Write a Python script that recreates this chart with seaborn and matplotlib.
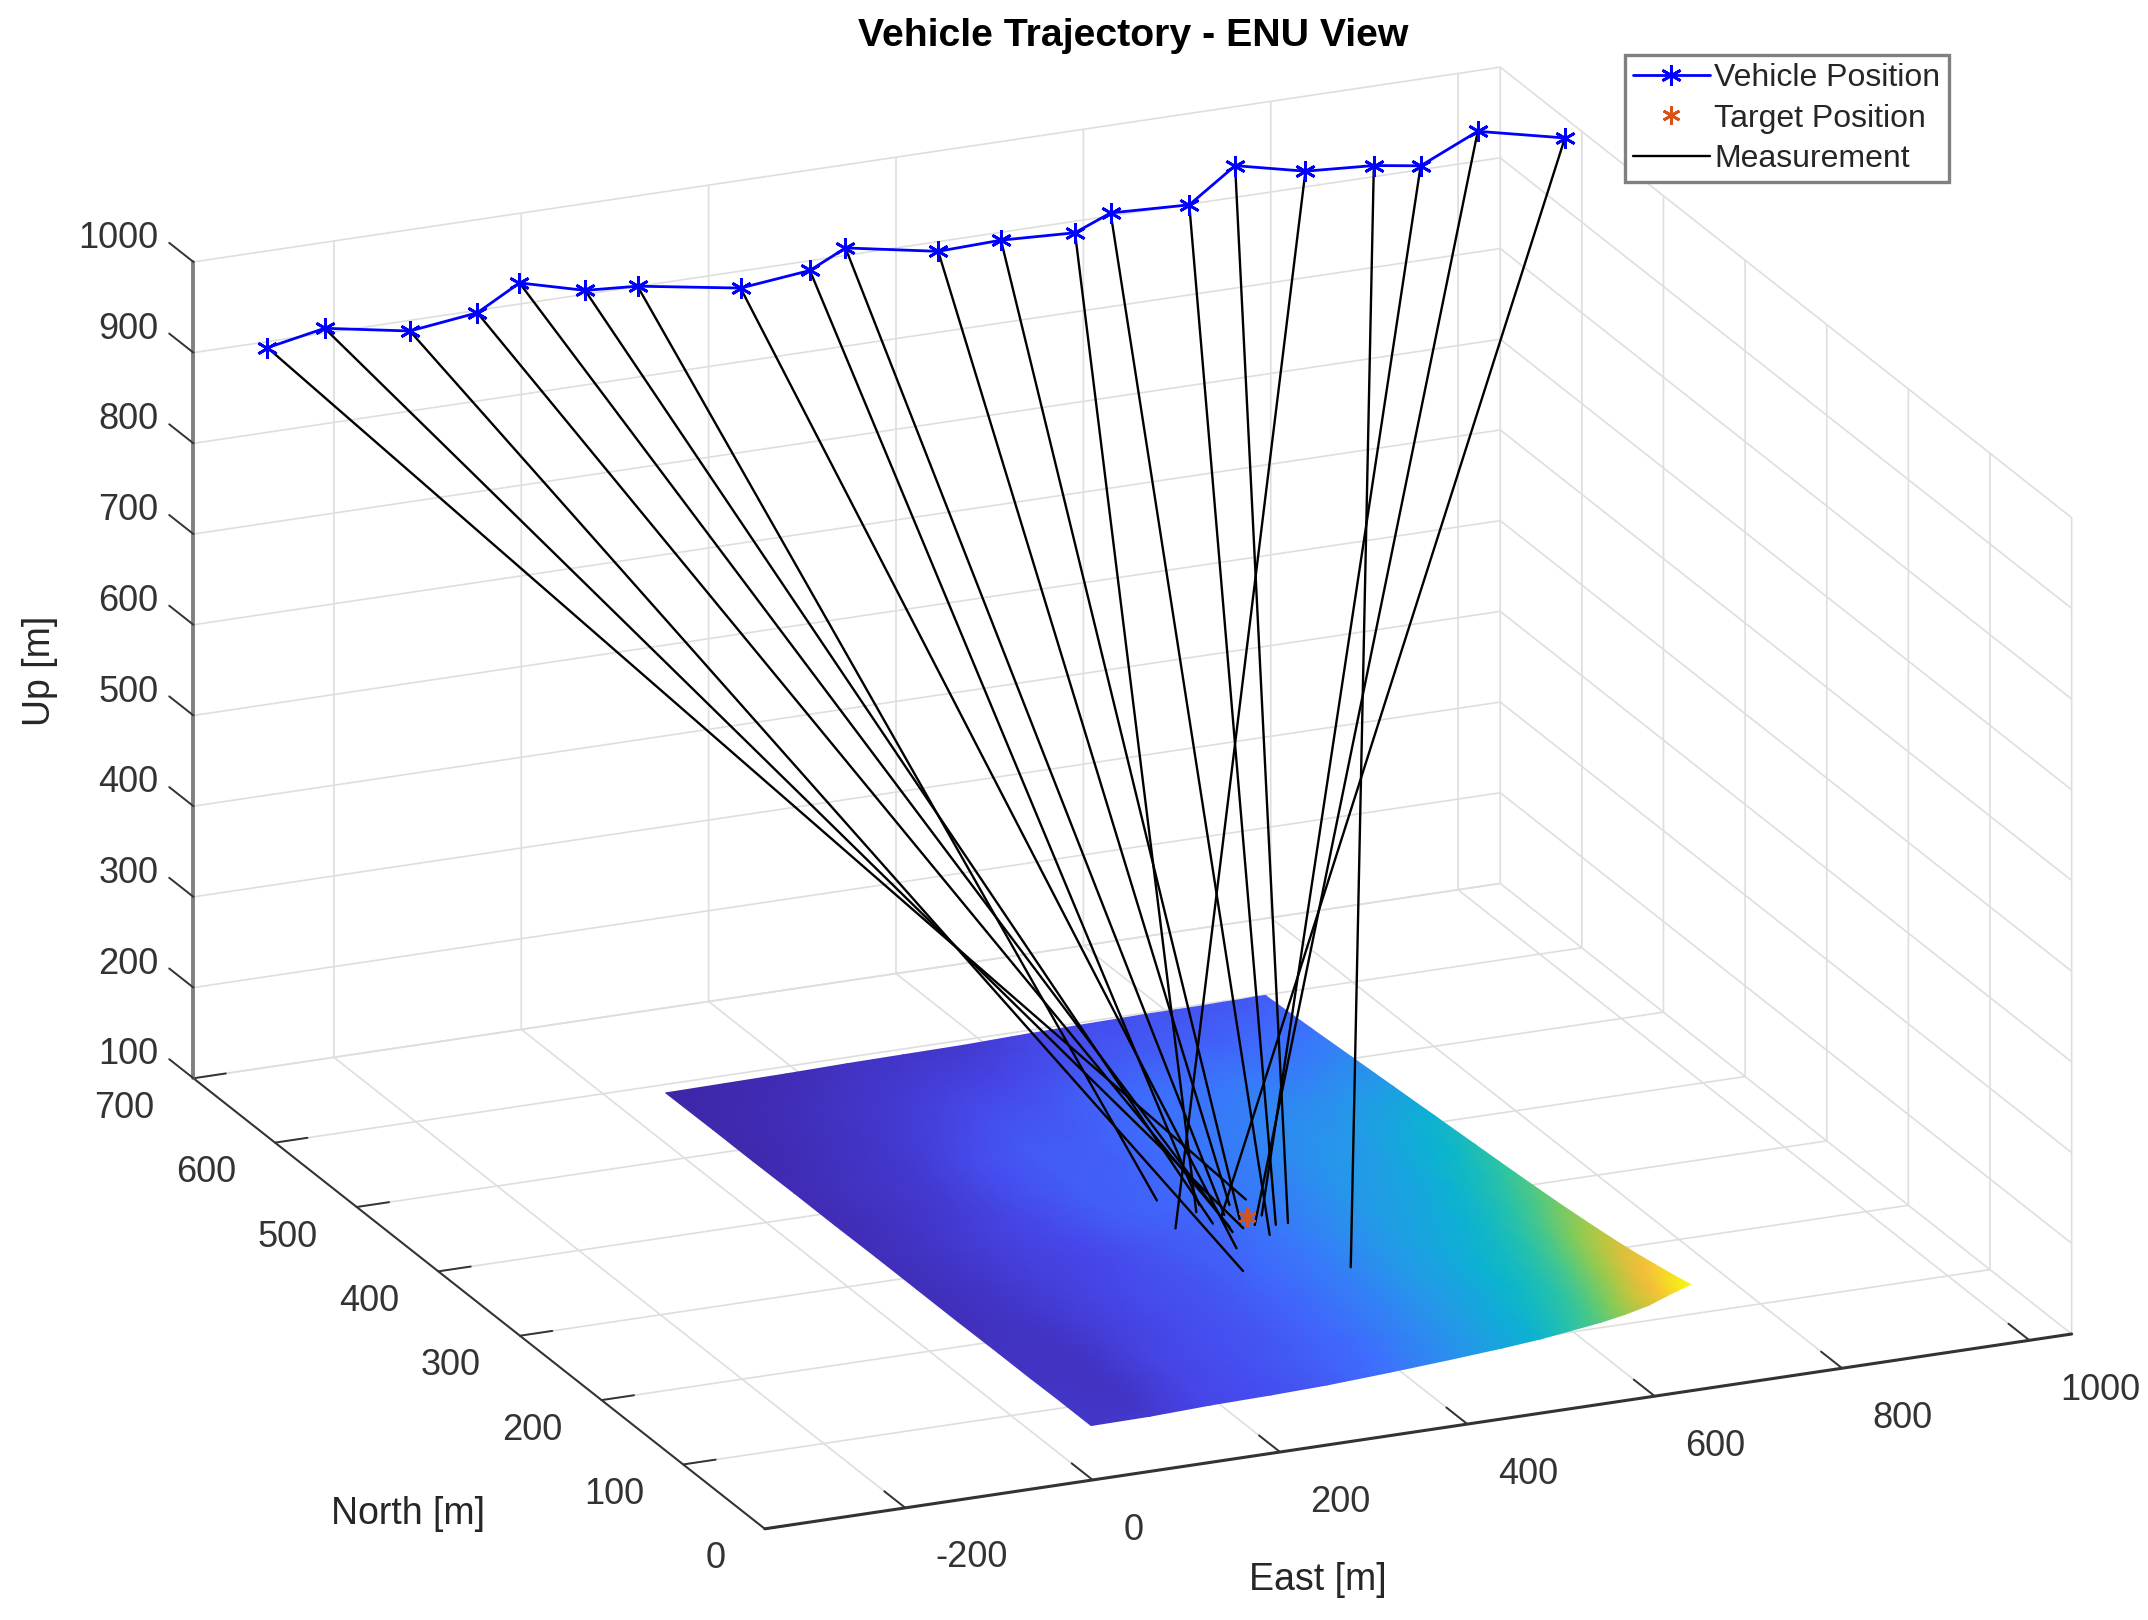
import numpy as np
import matplotlib
matplotlib.use("Agg")
import matplotlib.pyplot as plt
from mpl_toolkits.mplot3d import proj3d
import seaborn as sns

# vehicle track, East / North / Up in metres
vehicle_east = [-345, -284, -193, -121, -76, -6, 50, 160, 234, 272, 371, 438, 517, 555, 639, 701, 763, 836, 886, 960, 1040]
vehicle_north = [615, 615, 615, 615, 615, 615, 615, 615, 615, 615, 615, 615, 615, 615, 615, 630, 615, 615, 615, 630, 615]
vehicle_up = [965, 977, 960, 969, 995, 976, 972, 953, 961, 980, 961, 963, 959, 975, 971, 994, 989, 984, 976, 992, 983]

# ground point seen by each measurement
meas_east = [431, 396, 347, 385, 382, 374, 350, 367, 383, 394, 410, 400, 372, 412, 429, 442, 335, 448, 427, 410, 389]
meas_north = [307, 270, 214, 274, 267, 282, 323, 245, 309, 291, 303, 278, 300, 256, 268, 268, 283, 198, 283, 272, 289]
meas_up = [125] * 21

target_east = [412]
target_north = [284]
target_up = [125]

terrain_east = [47, 110, 175, 240, 300, 365, 430, 487, 527, 559, 591, 617, 642, 661, 674, 687]
terrain_north = [56, 75, 100, 130, 170, 220, 270, 320, 370, 420, 470, 520, 577]
# colour level in percent of the terrain range, one row per terrain_north value
terrain_level = [
    [5, 6, 10, 12, 15, 21, 28, 35, 41, 48, 55, 63, 73, 85, 93, 100],
    [5, 5, 10, 12, 15, 20, 27, 34, 39, 45, 52, 60, 70, 80, 88, 93],
    [5, 4, 9, 12, 15, 19, 26, 33, 38, 43, 49, 56, 65, 74, 80, 85],
    [4, 4, 9, 12, 14, 19, 25, 32, 36, 41, 46, 52, 60, 67, 72, 76],
    [4, 4, 8, 11, 14, 18, 24, 31, 35, 39, 43, 48, 54, 60, 64, 67],
    [3, 5, 8, 11, 13, 18, 23, 29, 33, 36, 39, 43, 48, 52, 55, 58],
    [3, 5, 8, 10, 14, 17, 22, 27, 31, 33, 36, 39, 43, 46, 49, 51],
    [3, 5, 8, 11, 16, 18, 22, 25, 29, 31, 33, 36, 39, 41, 43, 45],
    [2, 4, 7, 12, 16, 17, 21, 24, 27, 29, 30, 33, 35, 37, 38, 39],
    [2, 4, 6, 11, 15, 16, 20, 22, 24, 26, 27, 28, 30, 31, 32, 33],
    [1, 3, 5, 8, 12, 14, 18, 20, 21, 22, 22, 23, 24, 25, 26, 27],
    [1, 2, 4, 6, 8, 10, 13, 15, 16, 17, 17, 18, 19, 20, 21, 21],
    [0, 1, 2, 4, 5, 6, 9, 11, 12, 13, 13, 13, 14, 14, 15, 15],
]

east_ticks = [-200, 0, 200, 400, 600, 800, 1000]
north_ticks = [0, 100, 200, 300, 400, 500, 600, 700]
up_ticks = [100, 200, 300, 400, 500, 600, 700, 800, 900, 1000]

parula_colors = ["#3e26a8", "#4747eb", "#3e6fff", "#2797eb", "#08b5d0", "#31c69f",
                 "#81cc59", "#c8c63a", "#f7ba3d", "#f5dc26", "#f9fb0e"]

sns.set_theme(style="whitegrid", rc={
    "grid.color": "#dedede",
    "grid.linewidth": 1.2,
    "xtick.color": "#333333",
    "ytick.color": "#333333",
    "xtick.major.width": 1.4,
    "ytick.major.width": 1.4,
    "text.color": "#262626",
    "axes.unicode_minus": False,
})
plt.rcParams["font.family"] = ["Liberation Sans", "DejaVu Sans"]

fig = plt.figure(figsize=(21.48, 16.2), dpi=100, facecolor="white")
ax = fig.add_axes([29.5 / 2148, -281 / 1620, 1.0, 2148 / 1620], projection="3d")
ax.set_proj_type("ortho")
ax.view_init(elev=20.05, azim=-113.5, roll=0)
ax.set_box_aspect((1425, 1433, 869), zoom=0.9942)
ax.computed_zorder = False
ax.patch.set_alpha(0)

ax.set_xlim(-350, 1045)
ax.set_ylim(0, 700)
ax.set_zlim(100, 1000)

# plot_surface has flat facets only, so the terrain goes in as a gouraud mesh on the projected nodes
parula = sns.blend_palette(parula_colors, n_colors=256, as_cmap=True)
east_grid, north_grid = np.meshgrid(terrain_east, terrain_north)
terrain_up = 110 + 0.6 * np.array(terrain_level, dtype=float)
px, py, _ = proj3d.proj_transform(east_grid.ravel(), north_grid.ravel(), terrain_up.ravel(), ax.get_proj())
terrain = ax.pcolormesh(np.reshape(px, east_grid.shape), np.reshape(py, east_grid.shape), terrain_up,
                        shading="gouraud", cmap=parula, vmin=110, vmax=170, zorder=1)
terrain.do_3d_projection = lambda: 0

for i in range(len(vehicle_east)):
    ax.plot([vehicle_east[i], meas_east[i]], [vehicle_north[i], meas_north[i]], [vehicle_up[i], meas_up[i]],
            color="black", lw=1.7, zorder=3, label="Measurement" if i == 0 else None)
ax.plot(target_east, target_north, target_up, ls="none", marker=(6, 2, 0), ms=13, mew=2.0,
        color="#d95319", zorder=4, label="Target Position")
ax.plot(vehicle_east, vehicle_north, vehicle_up, color="#0000ff", lw=2.0, marker=(6, 2, 0), ms=15, mew=2.0,
        zorder=5, label="Vehicle Position")

ax.set_xticks(east_ticks)
ax.set_yticks(north_ticks)
ax.set_zticks(up_ticks)
ax.tick_params(axis="x", labelsize=26, labelcolor="#333333", pad=35)
ax.tick_params(axis="y", labelsize=26, labelcolor="#333333", pad=16)
ax.tick_params(axis="z", labelsize=26, labelcolor="#333333", pad=41)
plt.setp(ax.get_xticklabels(), ha="left", va="bottom")
plt.setp(ax.get_yticklabels(), ha="right", va="center")
plt.setp(ax.get_zticklabels(), ha="right", va="center_baseline")

for axis, factor, line_color, line_width in [(ax.xaxis, 0.46, "#333333", 2.2),
                                             (ax.yaxis, 0.31, "#333333", 1.5),
                                             (ax.zaxis, 0.53, "#808080", 2.8)]:
    axis.set_pane_color((1, 1, 1, 0))
    axis.pane.set_edgecolor("#dedede")
    axis.pane.set_linewidth(1.2)
    axis._axinfo["tick"].update(inward_factor=0, outward_factor=factor)
    axis.line.set_color(line_color)
    axis.line.set_linewidth(line_width)

# MATLAB keeps Up on the left corner with ticks running along North
ax.xaxis.set_ticks_position("lower")
ax.yaxis.set_ticks_position("lower")
ax.zaxis.set_ticks_position("upper")
ax.zaxis._get_tickdir = lambda position: 1
# which directions the tick labels move in, away from the box
ax.xaxis._axmask = lambda: [False, True, True]
ax.yaxis._axmask = lambda: [True, False, True]
ax.zaxis._axmask = lambda: [False, True, False]

handles, labels = ax.get_legend_handles_labels()
order = [labels.index(n) for n in ["Vehicle Position", "Target Position", "Measurement"]]
legend = ax.legend([handles[i] for i in order], [labels[i] for i in order],
                   loc="upper left", bbox_to_anchor=(1625 / 2148, 1 - 55 / 1620),
                   bbox_transform=fig.transFigure, fontsize=23, frameon=True, fancybox=False,
                   framealpha=1, edgecolor="#808080", handlelength=2.4, handletextpad=0.15,
                   labelspacing=0.33, borderpad=0.25, borderaxespad=0)
legend.get_frame().set_linewidth(2.4)
legend.set_zorder(10)

fig.suptitle("Vehicle Trajectory - ENU View", x=1133 / 2148, y=1 - 36 / 1620, va="center",
             fontsize=28.3, fontweight="bold", color="black")
fig.text(1318 / 2148, 1 - 1580 / 1620, "East [m]", ha="center", va="center", fontsize=27)
fig.text(408 / 2148, 1 - 1514 / 1620, "North [m]", ha="center", va="center", fontsize=27)
fig.text(40 / 2148, 1 - 671 / 1620, "Up [m]", ha="center", va="center", rotation=90, fontsize=27)

fig.savefig("out.png", dpi=100)
